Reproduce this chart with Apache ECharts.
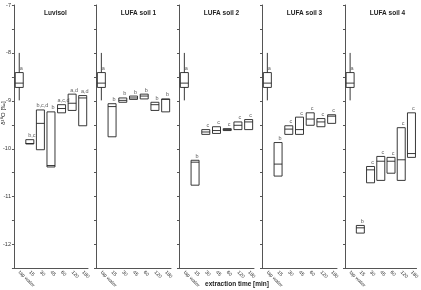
<!DOCTYPE html>
<html>
<head>
<meta charset="utf-8">
<script src="https://cdn.jsdelivr.net/npm/echarts@6/dist/echarts.min.js"></script>
<style>
  html, body { margin: 0; padding: 0; background: #fff; }
  #chart { width: 421px; height: 290px; }
</style>
</head>
<body>
<div id="chart"></div>
<script>
// categories and panels
const categories = ['tap water', '15', '30', '45', '60', '120', '180'];
const panelNames = ['Luvisol', 'LUFA soil 1', 'LUFA soil 2', 'LUFA soil 3', 'LUFA soil 4'];

// tap water: [min, Q1, median, Q3, max]
const tapWater = [-8.99, -8.72, -8.63, -8.41, -8.0];

// extraction times 15..180 (no whiskers)
const luvisolQ1  = [-9.90, -10.02, -10.38, -9.25, -9.20, -9.52];
const luvisolMed = [-9.89, -9.47, -10.35, -9.16, -9.05, -8.94];
const luvisolQ3  = [-9.81, -9.19, -9.23, -9.08, -8.86, -8.89];

const soil1Q1  = [-9.75, -9.03, -8.97, -8.96, -9.20, -9.23];
const soil1Med = [-9.12, -8.99, -8.94, -8.90, -9.08, -8.97];
const soil1Q3  = [-9.06, -8.94, -8.90, -8.86, -9.03, -8.96];

const soil2Q1  = [-10.76, -9.70, -9.68, -9.62, -9.60, -9.60];
const soil2Med = [-10.28, -9.65, -9.62, -9.60, -9.51, -9.44];
const soil2Q3  = [-10.24, -9.60, -9.54, -9.58, -9.44, -9.39];

const soil3Q1  = [-10.57, -9.70, -9.70, -9.51, -9.54, -9.47];
const soil3Med = [-10.32, -9.59, -9.60, -9.38, -9.44, -9.32];
const soil3Q3  = [-9.87, -9.52, -9.34, -9.25, -9.37, -9.29];

const soil4Q1  = [-11.76, -10.71, -10.66, -10.51, -10.66, -10.18];
const soil4Med = [-11.65, -10.44, -10.26, -10.26, -10.23, -10.10];
const soil4Q3  = [-11.60, -10.37, -10.16, -10.18, -9.56, -9.25];

// significance letters
const luvisolLetters = ['a', 'b,c', 'b,c,d', 'b', 'a,c,d', 'a,d', 'a,d'];
const soil1Letters = ['a', 'b', 'b', 'b', 'b', 'b', 'b'];
const soil2Letters = ['a', 'b', 'c', 'c', 'c', 'c', 'c'];
const soil3Letters = ['a', 'b', 'c', 'c', 'c', 'c', 'c'];
const soil4Letters = ['a', 'b', 'c', 'c', 'c', 'c', 'c'];

const yTicks = [-7, -8, -9, -10, -11, -12];

const q1s = [luvisolQ1, soil1Q1, soil2Q1, soil3Q1, soil4Q1];
const meds = [luvisolMed, soil1Med, soil2Med, soil3Med, soil4Med];
const q3s = [luvisolQ3, soil1Q3, soil2Q3, soil3Q3, soil4Q3];
const letters = [luvisolLetters, soil1Letters, soil2Letters, soil3Letters, soil4Letters];

const font = "'Liberation Sans', Arial, sans-serif";
const lefts = [13, 96, 179, 262, 345];
const boxW = 8;

function renderBox(params, api) {
  const i = api.value(0);
  const lo = api.coord([i, api.value(1)]);
  const q1 = api.coord([i, api.value(2)]);
  const md = api.coord([i, api.value(3)]);
  const q3 = api.coord([i, api.value(4)]);
  const hi = api.coord([i, api.value(5)]);
  const x = q1[0], h = boxW / 2;
  const st = { stroke: '#222', lineWidth: 0.9, fill: null };
  const kids = [
    { type: 'rect', shape: { x: x - h, y: q3[1], width: boxW, height: q1[1] - q3[1] }, style: { stroke: '#222', lineWidth: 0.9, fill: '#fff' } },
    { type: 'line', shape: { x1: x - h, y1: md[1], x2: x + h, y2: md[1] }, style: st }
  ];
  if (hi[1] < q3[1]) kids.push({ type: 'line', shape: { x1: x, y1: hi[1], x2: x, y2: q3[1] }, style: st });
  if (lo[1] > q1[1]) kids.push({ type: 'line', shape: { x1: x, y1: q1[1], x2: x, y2: lo[1] }, style: st });
  return { type: 'group', children: kids };
}

let grids = [], xAxes = [], yAxes = [], series = [], titles = [];

panelNames.forEach(function (name, p) {
  grids.push({ left: lefts[p], top: 5, width: 75, height: 267 });
  xAxes.push({
    type: 'category', gridIndex: p, data: categories, boundaryGap: true,
    axisLine: { lineStyle: { color: '#555', width: 1 } },
    axisTick: { alignWithLabel: true, length: 2, lineStyle: { color: '#555' } },
    axisLabel: { rotate: -45, fontSize: 5, color: '#333', fontFamily: font, margin: 3, interval: 0 }
  });
  yAxes.push({
    type: 'value', gridIndex: p, min: -12.5, max: -7, interval: 0.5,
    splitLine: { show: false },
    axisLine: { show: true, lineStyle: { color: '#555', width: 1 } },
    axisTick: { show: true, length: 2, lineStyle: { color: '#555' } },
    axisLabel: {
      show: p === 0, fontSize: 5.5, color: '#333', fontFamily: font, margin: 3,
      formatter: function (v) { return yTicks.indexOf(v) >= 0 ? String(v) : ''; }
    }
  });
  let boxData = [[0].concat(tapWater)];
  for (let i = 0; i < 6; i++) {
    boxData.push([i + 1, q1s[p][i], q1s[p][i], meds[p][i], q3s[p][i], q3s[p][i]]);
  }
  series.push({
    type: 'custom', xAxisIndex: p, yAxisIndex: p, data: boxData,
    renderItem: renderBox, silent: true,
    encode: { x: 0, y: [1, 2, 3, 4, 5] }
  });
  let letterData = boxData.map(function (b) { return [b[0], b[4]]; });
  series.push({
    type: 'scatter', xAxisIndex: p, yAxisIndex: p, data: letterData,
    symbolSize: 0, silent: true,
    label: {
      show: true, position: 'top', distance: 1, offset: [2, 0],
      fontSize: 5.5, color: '#333', fontFamily: font,
      formatter: function (prm) { return letters[p][prm.dataIndex]; }
    }
  });
  titles.push({
    text: name, left: lefts[p] + 37.5, top: 5, textAlign: 'center',
    textStyle: { fontSize: 6.5, fontWeight: 'bold', color: '#222', fontFamily: font }
  });
});

const chart = echarts.init(document.getElementById('chart'));
chart.setOption({
  animation: false,
  backgroundColor: '#fff',
  title: titles,
  grid: grids,
  xAxis: xAxes,
  yAxis: yAxes,
  series: series,
  graphic: [
    {
      type: 'text', x: 3, y: 113, rotation: Math.PI / 2,
      style: { text: 'δ¹⁸O [‰]', fontSize: 6, fill: '#222', fontFamily: font, align: 'center', verticalAlign: 'middle' }
    },
    {
      type: 'text', x: 237, y: 284,
      style: { text: 'extraction time [min]', fontSize: 6.5, fontWeight: 'bold', fill: '#222', fontFamily: font, align: 'center', verticalAlign: 'middle' }
    }
  ]
});
</script>
</body>
</html>
